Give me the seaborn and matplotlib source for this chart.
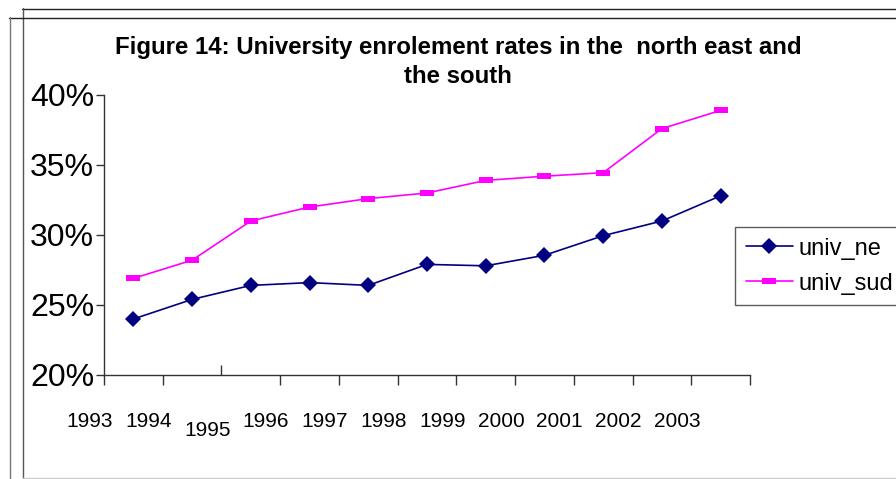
import numpy as np
import pandas as pd
import matplotlib
matplotlib.use("Agg")
import matplotlib.pyplot as plt
import matplotlib.lines as mlines
import matplotlib.transforms as mtransforms
from matplotlib.path import Path
import seaborn as sns

# ---- data -------------------------------------------------------------
years = ["1993", "1994", "1995", "1996", "1997", "1998",
         "1999", "2000", "2001", "2002", "2003"]
univ_ne = [24.0, 25.4, 26.4, 26.6, 26.4, 27.9, 27.8, 28.55, 29.95, 31.0, 32.8]
univ_sud = [26.9, 28.2, 31.0, 32.0, 32.6, 33.0, 33.9, 34.2, 34.45, 37.6, 38.9]
series_names = ["univ_ne", "univ_sud"]
y_ticks = [20, 25, 30, 35, 40]

# ---- style ------------------------------------------------------------
sns.set_style("white")
plt.rcParams["font.family"] = ["Liberation Sans", "DejaVu Sans"]
for key in ("text.color", "axes.labelcolor", "xtick.color", "ytick.color"):
    plt.rcParams[key] = "black"

fig = plt.figure(figsize=(8.96, 4.79), dpi=100)
ax = fig.add_axes([104 / 896, 1 - 375 / 479, (750 - 104) / 896, (375 - 95) / 479])

n = len(years)
df = pd.DataFrame({
    "pos": np.tile(np.arange(n), 2),
    "value": univ_ne + univ_sud,
    "series": np.repeat(series_names, n),
})

rect_marker = Path([(-1, -0.45), (1, -0.45), (1, 0.45), (-1, 0.45), (-1, -0.45)],
                   [Path.MOVETO, Path.LINETO, Path.LINETO, Path.LINETO, Path.CLOSEPOLY])

palette = {"univ_ne": "#000080", "univ_sud": "#FF00FF"}
markers = {"univ_ne": "D", "univ_sud": rect_marker}
marker_sizes = {"univ_ne": 8, "univ_sud": 10}

sns.lineplot(data=df, x="pos", y="value", hue="series", style="series",
             palette=palette, markers=markers, dashes=False, ax=ax,
             linewidth=1.2, markeredgewidth=0, legend=False)
for line, name in zip(ax.get_lines(), series_names):
    line.set_markersize(marker_sizes[name])

# ---- axes -------------------------------------------------------------
ax.set_xlabel("")
ax.set_ylabel("")
for side in ("top", "right"):
    ax.spines[side].set_visible(False)
for side in ("left", "bottom"):
    ax.spines[side].set_color("#333333")
    ax.spines[side].set_linewidth(1.0)

ax.set_yticks(y_ticks)
ax.set_yticklabels([f"{v}%" for v in y_ticks])
ax.tick_params(axis="y", direction="out", length=6, width=1, color="#333333",
               labelsize=23, labelcolor="black", pad=1, left=True)

# category boundaries as ticks; year labels are placed separately
ax.set_xticks(np.arange(n + 1) - 0.5)
ax.set_xticklabels([])
ax.tick_params(axis="x", which="major", direction="out", length=7, width=1,
               color="#333333", bottom=True)

ax.set_xlim(-0.5, n - 0.5)
ax.set_ylim(20, 40)

# the tick under 1995 points inwards
major = ax.xaxis.get_major_ticks()
major[2].tick1line.set_marker(mlines.TICKUP)

# year labels, shifted left of each category; 1995 sits a little lower
label_tr = mtransforms.blended_transform_factory(ax.transData, ax.transAxes)
for i, yr in enumerate(years):
    dy = -9 / 100 if yr == "1995" else 0
    tr = label_tr + mtransforms.ScaledTranslation(0, dy, fig.dpi_scale_trans)
    ax.text(i - 0.74, -52 / 280, yr, transform=tr, ha="center", va="baseline",
            fontsize=15, color="black", clip_on=False)

ax.grid(False)

# ---- title ------------------------------------------------------------
fig.text(458 / 896, 1 - 36 / 479,
         "Figure 14: University enrolement rates in the  north east and\nthe south",
         ha="center", va="top", fontsize=17.3, fontweight="bold", linespacing=1.35,
         color="black")

# ---- legend -----------------------------------------------------------
handles = [
    mlines.Line2D([], [], color=palette["univ_ne"], marker="D",
                  markersize=marker_sizes["univ_ne"], markeredgewidth=0, linewidth=1.2),
    mlines.Line2D([], [], color=palette["univ_sud"], marker=rect_marker,
                  markersize=marker_sizes["univ_sud"], markeredgewidth=0, linewidth=1.2),
]
leg = fig.legend(handles, series_names, loc="upper left",
                 bbox_to_anchor=(735 / 896, 1 - 227 / 479),
                 bbox_transform=fig.transFigure, fontsize=17, frameon=True,
                 fancybox=False, shadow=False, borderpad=0.45, labelspacing=0.55,
                 handlelength=2.0, handletextpad=0.25, borderaxespad=0)
leg.get_frame().set_edgecolor("#333333")
leg.get_frame().set_linewidth(1.0)
for t in leg.get_texts():
    t.set_color("black")

# ---- chart area frames ------------------------------------------------
def fline(x0, y0, x1, y1, color, lw=1.0):
    fig.add_artist(mlines.Line2D([x0 / 896, x1 / 896], [1 - y0 / 479, 1 - y1 / 479],
                                 transform=fig.transFigure, color=color, linewidth=lw))

fline(22, 8.5, 896, 8.5, "#222222")
fline(22.5, 8, 22.5, 479, "#555555")
fline(9, 17.5, 896, 17.5, "#222222")
fline(9.5, 17, 9.5, 479, "#777777")
fline(22, 478, 896, 478, "#cccccc")

fig.savefig("out.png", dpi=100)
